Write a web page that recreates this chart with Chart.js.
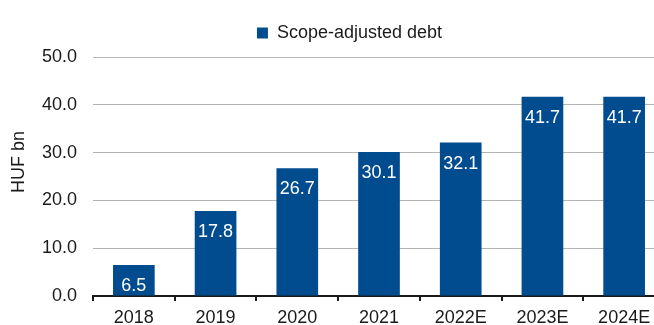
<!DOCTYPE html>
<html>
<head>
<meta charset="utf-8">
<script src="https://cdn.jsdelivr.net/npm/chart.js@4/dist/chart.umd.min.js"></script>
<style>
    html, body { margin: 0; padding: 0; background: #fff; }
    #wrap { width: 654px; height: 325px; overflow: hidden; position: relative; }
    #wrap canvas { position: absolute; left: 0; top: 0; }
</style>
</head>
<body>
<div id="wrap"><canvas id="debtChart" width="710" height="325"></canvas></div>
<script>
const years = ["2018", "2019", "2020", "2021", "2022E", "2023E", "2024E"];
const debtValues = [6.5, 17.8, 26.7, 30.1, 32.1, 41.7, 41.7];
const seriesName = "Scope-adjusted debt";
const axisTitle = "HUF bn";

const barColor = "#004C8F";
const fontFamily = "'Liberation Sans', Arial, sans-serif";

// white value labels just inside the top of each bar
const barLabels = {
    id: "barLabels",
    afterDatasetsDraw(chart) {
        const ctx = chart.ctx;
        const meta = chart.getDatasetMeta(0);
        ctx.save();
        ctx.fillStyle = "#ffffff";
        ctx.font = "18px " + fontFamily;
        ctx.textAlign = "center";
        ctx.textBaseline = "middle";
        meta.data.forEach((bar, i) => {
            const p = bar.getProps(["x", "y"], true);
            ctx.fillText(debtValues[i].toFixed(1), p.x, p.y + 21);
        });
        ctx.restore();
    }
};

// nudge the legend a bit right and up, like the original
const legendNudge = {
    id: "legendNudge",
    afterLayout(chart) {
        const lg = chart.legend;
        lg.left += 17; lg.right += 17;
        lg.top -= 5; lg.bottom -= 5;
    }
};

// y axis title, centred on the full picture height (not the plot)
const yTitle = {
    id: "yTitle",
    afterDraw(chart) {
        const ctx = chart.ctx;
        ctx.save();
        ctx.translate(19, 162);
        ctx.rotate(-Math.PI / 2);
        ctx.fillStyle = "#1a1a1a";
        ctx.font = "18px " + fontFamily;
        ctx.textAlign = "center";
        ctx.textBaseline = "middle";
        ctx.fillText(axisTitle, 0, 0);
        ctx.restore();
    }
};

Chart.defaults.font.family = fontFamily;
Chart.defaults.font.size = 18;
Chart.defaults.color = "#1a1a1a";

new Chart(document.getElementById("debtChart").getContext("2d"), {
    type: "bar",
    data: {
        labels: years,
        datasets: [{
            label: seriesName,
            data: debtValues,
            backgroundColor: barColor,
            borderWidth: 0,
            barPercentage: 0.51,
            categoryPercentage: 1.0
        }]
    },
    options: {
        responsive: false,
        animation: false,
        layout: { padding: { top: 19, right: 45, left: 0, bottom: 0 } },
        plugins: {
            legend: {
                position: "top",
                labels: {
                    boxWidth: 11,
                    boxHeight: 11,
                    padding: 10,
                    color: "#1a1a1a",
                    font: { size: 18 }
                }
            },
            tooltip: { enabled: false }
        },
        scales: {
            x: {
                offset: true,
                grid: {
                    offset: true,
                    drawOnChartArea: false,
                    drawTicks: true,
                    tickLength: 5,
                    color: "#1a1a1a",
                    lineWidth: 2
                },
                border: { display: true, color: "#1a1a1a", width: 2 },
                ticks: { padding: 6, font: { size: 18 }, color: "#1a1a1a" },
                afterFit(scale) { scale.height = 29; }
            },
            y: {
                min: 0,
                max: 50,
                grid: { color: "#b5b5b5", lineWidth: 1, drawTicks: false },
                border: { display: false },
                ticks: {
                    stepSize: 10,
                    padding: 16,
                    font: { size: 18 },
                    color: "#1a1a1a",
                    callback: v => v.toFixed(1)
                },
                afterFit(scale) { scale.width = 93; }
            }
        }
    },
    plugins: [barLabels, legendNudge, yTitle]
});
</script>
</body>
</html>
